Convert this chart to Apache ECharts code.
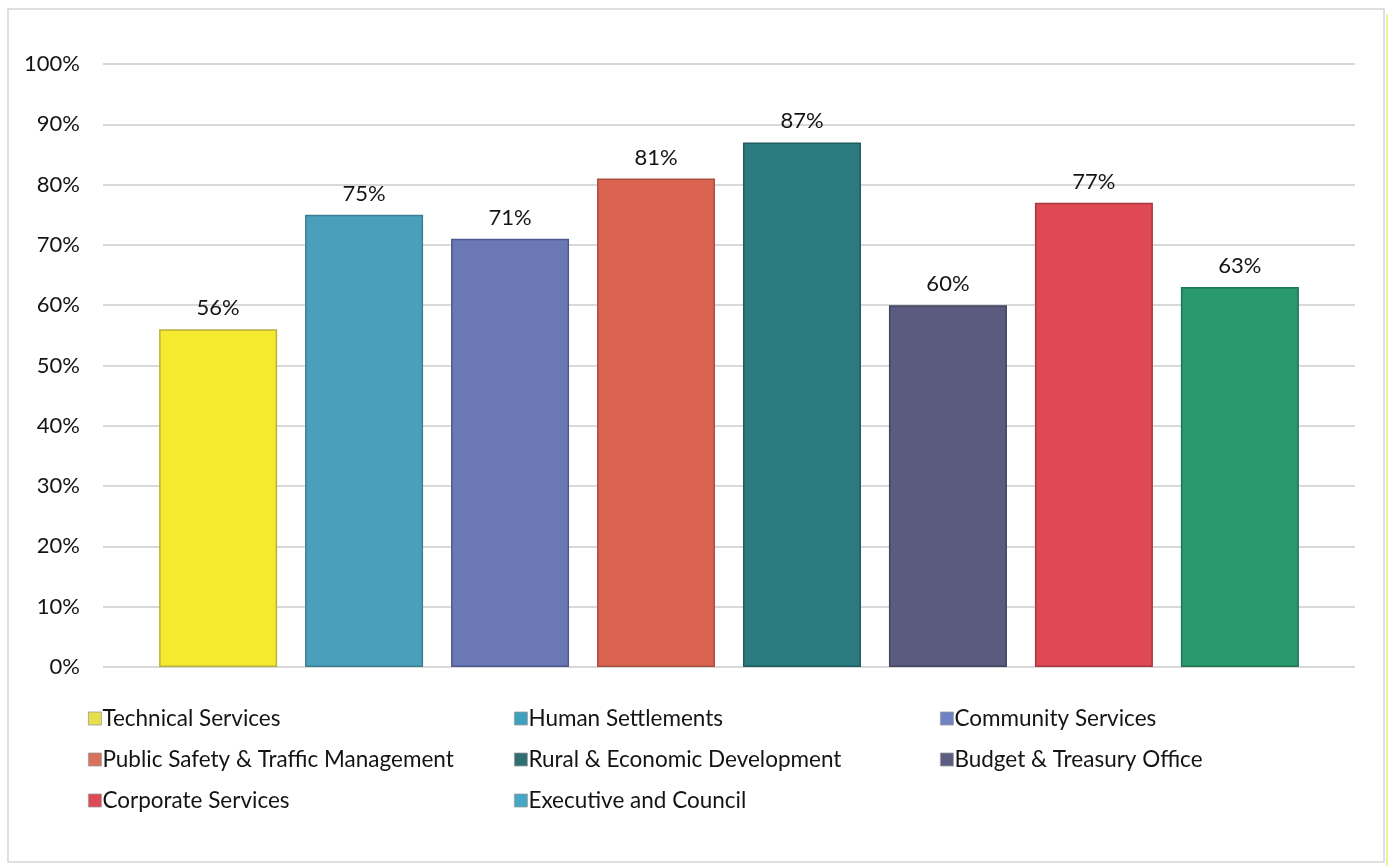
<!DOCTYPE html>
<html>
<head>
<meta charset="utf-8">
<title>Departmental performance</title>
<script src="https://cdn.jsdelivr.net/npm/echarts@6/dist/echarts.min.js"></script>
<style>
  html, body { margin: 0; padding: 0; background: #ffffff; }
  #chart { width: 1394px; height: 866px; }
</style>
</head>
<body>
<div id="chart"></div>
<script>
// Departments, in drawing order
const departments = [
  'Technical Services',
  'Human Settlements',
  'Community Services',
  'Public Safety & Traffic Management',
  'Rural & Economic Development',
  'Budget & Treasury Office',
  'Corporate Services',
  'Executive and Council'
];

// Share achieved per department (fraction of 1)
const achieved = [0.56, 0.75, 0.71, 0.81, 0.87, 0.60, 0.77, 0.63];

// Value axis ticks
const yTicks = [0, 0.1, 0.2, 0.3, 0.4, 0.5, 0.6, 0.7, 0.8, 0.9, 1.0];

// Bar fills and legend swatch fills
const barColors = ['#f6ea2e', '#4a9fba', '#6b78b6', '#da634f', '#2b7a7f', '#5b5b80', '#de4953', '#2a9a6c'];
const swatchColors = ['#e8e04a', '#3f9fbf', '#6f82c4', '#d9715c', '#2f6f72', '#5d5d84', '#dc4a55', '#45a6c6'];
const borderColors = ['#b8b040', '#3a7f94', '#4e5890', '#a9503f', '#1f5c60', '#44445f', '#a8383f', '#1f7452'];

// Legend columns (indices into departments)
const legendColumns = [[0, 3, 6], [1, 4, 7], [2, 5]];
const legendLeft = [83, 509, 935];

const FONT = 'Lato';
const TEXT = '#141414';

const chart = echarts.init(document.getElementById('chart'), null, { renderer: 'canvas' });

const series = departments.map((name, i) => ({
  name: name,
  type: 'bar',
  data: [achieved[i]],
  barWidth: 118,
  barGap: '23.7%',
  itemStyle: {
    color: barColors[i],
    borderColor: borderColors[i],
    borderWidth: 1.5
  },
  label: {
    show: true,
    position: 'top',
    distance: 10,
    formatter: p => Math.round(p.value * 100) + '%',
    fontFamily: FONT,
    fontSize: 22,
    color: TEXT
  },
  emphasis: { disabled: true }
}));

const legends = legendColumns.map((col, c) => ({
  orient: 'vertical',
  left: legendLeft[c],
  top: 702,
  itemWidth: 13,
  itemHeight: 13,
  itemGap: 18,
  icon: 'rect',
  selectedMode: false,
  textStyle: { fontFamily: FONT, fontSize: 22.5, color: TEXT, padding: [0, 0, 0, -4] },
  data: col.map(i => ({
    name: departments[i],
    itemStyle: { color: swatchColors[i], borderColor: '#9a9a9a', borderWidth: 0.8 }
  }))
}));

chart.setOption({
  backgroundColor: '#ffffff',
  animation: false,
  textStyle: { fontFamily: FONT },
  graphic: [
    {
      type: 'rect',
      shape: { x: 8, y: 9, width: 1376, height: 853 },
      style: { fill: 'none', stroke: '#d6d6d6', lineWidth: 1.5 },
      silent: true
    },
    {
      type: 'line',
      shape: { x1: 1387, y1: 14, x2: 1387, y2: 866 },
      style: { stroke: '#eef2a0', lineWidth: 2 },
      silent: true
    }
  ],
  legend: legends,
  grid: { left: 103, right: 39, top: 64, bottom: 199, containLabel: false },
  xAxis: {
    type: 'category',
    data: [''],
    axisLine: { show: false },
    axisTick: { show: false },
    axisLabel: { show: false }
  },
  yAxis: {
    type: 'value',
    min: yTicks[0],
    max: yTicks[yTicks.length - 1],
    interval: 0.1,
    axisLine: { show: false },
    axisTick: { show: false },
    axisLabel: {
      margin: 23,
      fontFamily: FONT,
      fontSize: 22,
      color: TEXT,
      formatter: v => Math.round(v * 100) + '%'
    },
    splitLine: { lineStyle: { color: '#cccccc', width: 1.5 } }
  },
  series: series
});
</script>
</body>
</html>
